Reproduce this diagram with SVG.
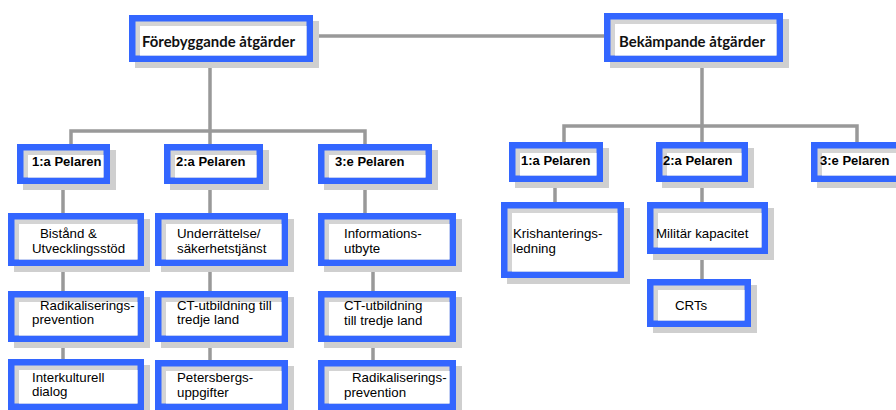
<svg xmlns="http://www.w3.org/2000/svg" width="896" height="410" viewBox="0 0 896 410">
<style>
.sh{fill:#cfcfcf}
.bx{fill:#d4d4d4;stroke:#3366ff;stroke-width:6.5}
.in{fill:#ffffff}
.t{font-family:"Liberation Sans",Arial,sans-serif;font-size:13.3px;fill:#000}
.p{font-family:"Liberation Sans",Arial,sans-serif;font-size:13px;font-weight:bold;fill:#000}
.h{font-family:Lato,"Liberation Sans",sans-serif;font-size:14.5px;font-weight:bold;fill:#111}
.c{fill:none;stroke:#999999;stroke-width:3.5}
</style>
<rect width="896" height="410" fill="#ffffff"/>
<g id="connectors">
<path class="c" d="M313 36H604"/>
<path class="c" d="M210 62V144"/>
<path class="c" d="M71 144V131H365V144"/>
<path class="c" d="M63 184V359"/>
<path class="c" d="M210 184V360"/>
<path class="c" d="M365 184V213"/>
<path class="c" d="M373 266V360"/>
<path class="c" d="M702 62V142"/>
<path class="c" d="M564 142V126H857V142"/>
<path class="c" d="M555 182V202"/>
<path class="c" d="M702 182V202"/>
<path class="c" d="M702 254V279"/>
</g>
<g id="n-forebyggande">
<rect class="sh" x="135" y="21" width="184" height="47"/>
<rect class="bx" x="132.25" y="18.25" width="177.5" height="40.5"/>
<rect class="in" x="140" y="26" width="166.5" height="29.5"/>
<text class="h" x="142" y="46.5" textLength="153" lengthAdjust="spacingAndGlyphs">Förebyggande åtgärder</text>
</g>
<g id="n-bekampande">
<rect class="sh" x="610" y="19" width="179" height="49"/>
<rect class="bx" x="607.25" y="16.25" width="172.5" height="42.5"/>
<rect class="in" x="615" y="24" width="161.5" height="31.5"/>
<text class="h" x="619" y="46.5" textLength="146" lengthAdjust="spacingAndGlyphs">Bekämpande åtgärder</text>
</g>
<g id="n-f-p1">
<rect class="sh" x="23" y="150" width="93" height="40"/>
<rect class="bx" x="20.25" y="147.25" width="86.5" height="33.5"/>
<rect class="in" x="28" y="155" width="75.5" height="22.5"/>
<text class="p" x="32" y="165.5">1:a Pelaren</text>
</g>
<g id="n-f-p2">
<rect class="sh" x="170" y="150" width="99" height="40"/>
<rect class="bx" x="167.25" y="147.25" width="92.5" height="33.5"/>
<rect class="in" x="175" y="155" width="81.5" height="22.5"/>
<text class="p" x="176" y="165.5">2:a Pelaren</text>
</g>
<g id="n-f-p3">
<rect class="sh" x="324" y="150" width="114" height="40"/>
<rect class="bx" x="321.25" y="147.25" width="107.5" height="33.5"/>
<rect class="in" x="329" y="155" width="96.5" height="22.5"/>
<text class="p" x="335" y="165.5">3:e Pelaren</text>
</g>
<g id="n-bistand">
<rect class="sh" x="14" y="219" width="136" height="53"/>
<rect class="bx" x="11.25" y="216.25" width="129.5" height="46.5"/>
<rect class="in" x="19" y="224" width="118.5" height="35.5"/>
<text class="t" x="40" y="238">Bistånd &amp;</text>
<text class="t" x="32" y="252.5">Utvecklingsstöd</text>
</g>
<g id="n-radikal1">
<rect class="sh" x="14" y="297" width="136" height="51"/>
<rect class="bx" x="11.25" y="294.25" width="129.5" height="44.5"/>
<rect class="in" x="19" y="302" width="118.5" height="33.5"/>
<text class="t" x="40" y="309.5">Radikaliserings-</text>
<text class="t" x="32" y="324">prevention</text>
</g>
<g id="n-interkulturell">
<rect class="sh" x="14" y="365" width="136" height="51"/>
<rect class="bx" x="11.25" y="362.25" width="129.5" height="44.5"/>
<rect class="in" x="19" y="370" width="118.5" height="33.5"/>
<text class="t" x="32" y="381.5">Interkulturell</text>
<text class="t" x="32" y="396">dialog</text>
</g>
<g id="n-underrattelse">
<rect class="sh" x="161" y="219" width="133" height="53"/>
<rect class="bx" x="158.25" y="216.25" width="126.5" height="46.5"/>
<rect class="in" x="166" y="224" width="115.5" height="35.5"/>
<text class="t" x="177" y="238">Underrättelse/</text>
<text class="t" x="177" y="252.5">säkerhetstjänst</text>
</g>
<g id="n-ct2">
<rect class="sh" x="161" y="297" width="133" height="51"/>
<rect class="bx" x="158.25" y="294.25" width="126.5" height="44.5"/>
<rect class="in" x="166" y="302" width="115.5" height="33.5"/>
<text class="t" x="177" y="309.5">CT-utbildning till</text>
<text class="t" x="177" y="324">tredje land</text>
</g>
<g id="n-petersbergs">
<rect class="sh" x="161" y="366" width="133" height="50"/>
<rect class="bx" x="158.25" y="363.25" width="126.5" height="43.5"/>
<rect class="in" x="166" y="371" width="115.5" height="32.5"/>
<text class="t" x="177" y="382">Petersbergs-</text>
<text class="t" x="177" y="396.5">uppgifter</text>
</g>
<g id="n-information">
<rect class="sh" x="324" y="219" width="138" height="53"/>
<rect class="bx" x="321.25" y="216.25" width="131.5" height="46.5"/>
<rect class="in" x="329" y="224" width="120.5" height="35.5"/>
<text class="t" x="344" y="238">Informations-</text>
<text class="t" x="344" y="252.5">utbyte</text>
</g>
<g id="n-ct3">
<rect class="sh" x="324" y="297" width="138" height="51"/>
<rect class="bx" x="321.25" y="294.25" width="131.5" height="44.5"/>
<rect class="in" x="329" y="302" width="120.5" height="33.5"/>
<text class="t" x="344" y="310">CT-utbildning</text>
<text class="t" x="344" y="324.5">till tredje land</text>
</g>
<g id="n-radikal3">
<rect class="sh" x="324" y="366" width="138" height="50"/>
<rect class="bx" x="321.25" y="363.25" width="131.5" height="43.5"/>
<rect class="in" x="329" y="371" width="120.5" height="32.5"/>
<text class="t" x="352" y="382">Radikaliserings-</text>
<text class="t" x="344" y="396.5">prevention</text>
</g>
<g id="n-b-p1">
<rect class="sh" x="515" y="148" width="94" height="40"/>
<rect class="bx" x="512.25" y="145.25" width="87.5" height="33.5"/>
<rect class="in" x="520" y="153" width="76.5" height="22.5"/>
<text class="p" x="521" y="165">1:a Pelaren</text>
</g>
<g id="n-b-p2">
<rect class="sh" x="662" y="148" width="92" height="40"/>
<rect class="bx" x="659.25" y="145.25" width="85.5" height="33.5"/>
<rect class="in" x="667" y="153" width="74.5" height="22.5"/>
<text class="p" x="663" y="165">2:a Pelaren</text>
</g>
<g id="n-b-p3">
<rect class="sh" x="817" y="148" width="92" height="40"/>
<rect class="bx" x="814.25" y="145.25" width="85.5" height="33.5"/>
<rect class="in" x="822" y="153" width="74.5" height="22.5"/>
<text class="p" x="820" y="165">3:e Pelaren</text>
</g>
<g id="n-krishantering">
<rect class="sh" x="507" y="208" width="123" height="76"/>
<rect class="bx" x="504.25" y="205.25" width="116.5" height="69.5"/>
<rect class="in" x="512" y="213" width="105.5" height="58.5"/>
<text class="t" x="513" y="238">Krishanterings-</text>
<text class="t" x="513" y="252.5">ledning</text>
</g>
<g id="n-militar">
<rect class="sh" x="653" y="208" width="121" height="52"/>
<rect class="bx" x="650.25" y="205.25" width="114.5" height="45.5"/>
<rect class="in" x="658" y="213" width="103.5" height="34.5"/>
<text class="t" x="656" y="238">Militär kapacitet</text>
</g>
<g id="n-crts">
<rect class="sh" x="653" y="285" width="104" height="48"/>
<rect class="bx" x="650.25" y="282.25" width="97.5" height="41.5"/>
<rect class="in" x="658" y="290" width="86.5" height="30.5"/>
<text class="t" x="675" y="310">CRTs</text>
</g>
</svg>
